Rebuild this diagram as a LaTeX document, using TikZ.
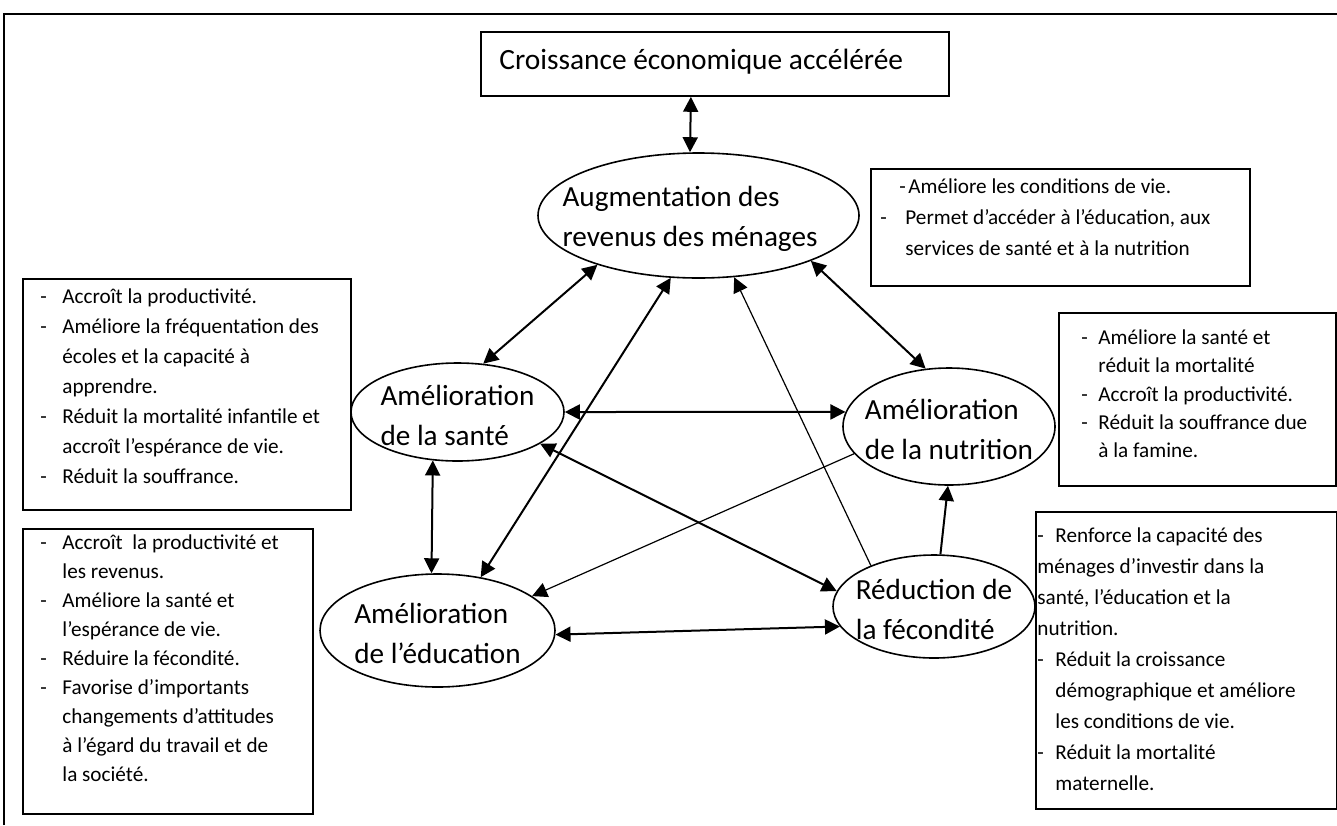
\documentclass[tikz,border=0pt]{standalone}
\usepackage{fontspec}
\setmainfont{Carlito}
\usetikzlibrary{shapes.geometric,arrows.meta}
\newcommand\bdash[2]{\makebox[#1][l]{-}#2}
\newcommand\bind[1]{\hspace*{#1}}
\begin{document}
\begin{tikzpicture}[x=0.5pt,y=-0.5pt,
  >={Triangle[length=7.5pt,width=7.5pt]},
  box/.style={draw, line width=0.9pt, rectangle, inner sep=0pt, anchor=north west},
  ell/.style={draw, line width=0.8pt, ellipse, inner sep=0pt},
  etxt/.style={align=left, font=\fontsize{14.6}{20}\selectfont, inner sep=0pt},
  btxt/.style={align=left, inner sep=0pt, anchor=north west},
  dbl/.style={<->, line width=1pt},
  sarr/.style={->, line width=1pt},
  tarr/.style={->, line width=0.6pt}]
\useasboundingbox (0,0) rectangle (1337,825);
% frame
\draw[line width=0.8pt] (4,825) -- (4,14) -- (1337,14);
% boxes
\node[box, minimum width=234pt, minimum height=32pt] (T) at (480,31) {};
\node[anchor=west, inner sep=0pt, font=\fontsize{14.7}{18}\selectfont] (Tt) at (499,62) {Croissance économique accélérée};
\node[box, minimum width=189.5pt, minimum height=58.5pt] (B0) at (870,168) {};
\node[box, minimum width=164pt, minimum height=115.5pt] (B1) at (22,278) {};
\node[box, minimum width=145pt, minimum height=142.5pt] (B2) at (22,528) {};
\node[box, minimum width=138.5pt, minimum height=86.5pt] (BN) at (1058,312) {};
\node[box, minimum width=150.5pt, minimum height=148.5pt] (BF) at (1035,511) {};
% box texts
\node[btxt, font=\fontsize{10.6}{15.5}\selectfont] (B0t) at (880,171) {\strut\hspace*{9.5pt}\makebox[4.5pt][l]{-}Améliore les conditions de vie.\\
\bdash{12.5pt}{Permet d’accéder à l’éducation, aux}\\
\bind{12.5pt}services de santé et à la nutrition};
\node[btxt, font=\fontsize{10.6}{15}\selectfont] (B1t) at (40,282) {\strut\bdash{11pt}{Accroît la productivité.}\\
\bdash{11pt}{Améliore la fréquentation des}\\
\bind{11pt}écoles et la capacité à\\
\bind{11pt}apprendre.\\
\bdash{11pt}{Réduit la mortalité infantile et}\\
\bind{11pt}accroît l’espérance de vie.\\
\bdash{11pt}{Réduit la souffrance.}};
\node[btxt, font=\fontsize{10.6}{14.5}\selectfont] (B2t) at (40,529) {\strut\bdash{11pt}{Accroît\ \ la productivité et}\\
\bind{11pt}les revenus.\\
\bdash{11pt}{Améliore la santé et}\\
\bind{11pt}l’espérance de vie.\\
\bdash{11pt}{Réduire la fécondité.}\\
\bdash{11pt}{Favorise d’importants}\\
\bind{11pt}changements d’attitudes\\
\bind{11pt}à l’égard du travail et de\\
\bind{11pt}la société.};
\node[btxt, font=\fontsize{10.6}{14.2}\selectfont] (BNt) at (1081,324) {\strut\bdash{8.5pt}{Améliore la santé et}\\
\bind{8.5pt}réduit la mortalité\\
\bdash{8.5pt}{Accroît la productivité.}\\
\bdash{8.5pt}{Réduit la souffrance due}\\
\bind{8.5pt}à la famine.};
\node[btxt, font=\fontsize{10.6}{15.5}\selectfont] (BFt) at (1037,520) {\strut\bdash{9pt}{Renforce la capacité des}\\
ménages d’investir dans la\\
santé, l’éducation et la\\
nutrition.\\
\bdash{9pt}{Réduit la croissance}\\
\bind{9pt}démographique et améliore\\
\bind{9pt}les conditions de vie.\\
\bdash{9pt}{Réduit la mortalité}\\
\bind{9pt}maternelle.};
% ellipses
\node[ell, minimum width=160.5pt, minimum height=62.5pt] (R) at (698.5,215.5) {};
\node[etxt] (Rt) at (690,219) {Augmentation des\\revenus des ménages};
\node[ell, minimum width=106.5pt, minimum height=49pt] (H) at (457.5,412) {};
\node[etxt] (Ht) at (457.5,415) {Amélioration\\de la santé};
\node[ell, minimum width=106pt, minimum height=58.5pt] (N) at (949,426.5) {};
\node[etxt] (Nt) at (949,429) {Amélioration\\de la nutrition};
\node[ell, minimum width=117.5pt, minimum height=56.5pt] (E) at (437.5,630.5) {};
\node[etxt] (Et) at (437.5,633) {Amélioration\\de l’éducation};
\node[ell, minimum width=101pt, minimum height=51.5pt] (F) at (934,606.5) {};
\node[etxt] (Ft) at (934,609) {Réduction de\\la fécondité};
% connectors
\draw[dbl] ([xshift=-12pt]T.south) -- ([xshift=-4.25pt]R.north);
\draw[dbl] (R.206) -- (H.62);
\draw[dbl] (E.51) -- (R.246);
\draw[tarr] (F.147) -- (R.300);
\draw[dbl] (R.338) -- (N.112);
\draw[dbl] (H.0) -- (N.172);
\draw[dbl] (H.243) -- (E.96);
\draw[dbl] (H.339) -- (F.171);
\draw[tarr] (N.196) -- (E.20);
\draw[dbl] (E.358) -- (F.192);
\draw[sarr] (F.83) -- (N.269);
\end{tikzpicture}
\end{document}
